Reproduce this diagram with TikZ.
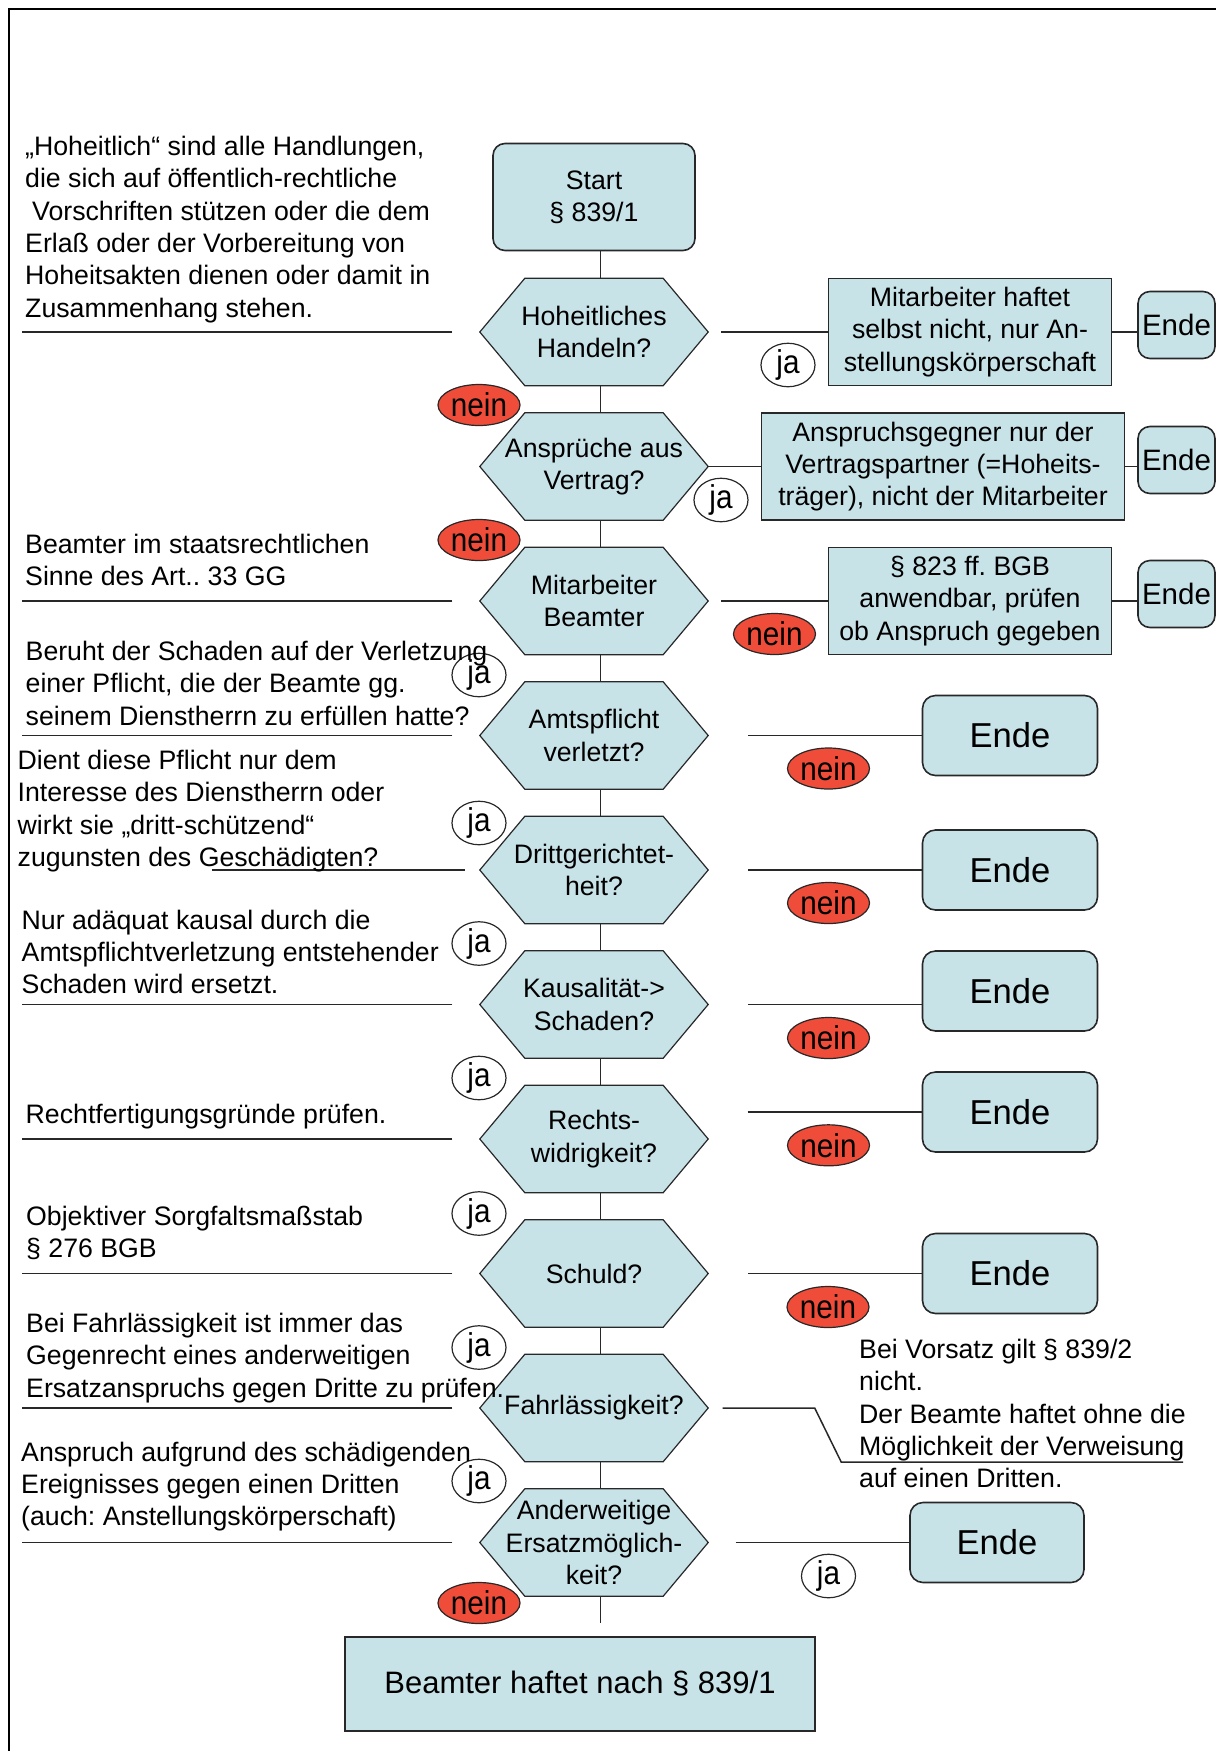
\documentclass[tikz,border=0pt]{standalone}
\usepackage{fontspec}
\setmainfont{Liberation Sans}
\newfontfamily\narrowf[FakeStretch=0.9]{Liberation Sans}
\usetikzlibrary{calc,shapes.geometric}
\pgfdeclarelayer{bg}
\pgfsetlayers{bg,main}
\definecolor{boxblue}{RGB}{200,227,232}
\definecolor{neinred}{RGB}{239,77,58}
\definecolor{lineg}{RGB}{40,40,40}
\frenchspacing
\begin{document}
\frenchspacing
\begin{tikzpicture}[x=1pt,y=-1pt,
  txt/.style={font=\fontsize{26.7}{32.3}\selectfont, inner sep=0pt},
  note/.style={txt, align=left, anchor=north west},
  hexn/.style={txt, align=center, minimum width=228pt, minimum height=107pt},
  hexshape/.style={draw=lineg, line width=1.2pt, fill=boxblue},
  bluebox/.style={txt, align=center, draw=lineg, line width=1.6pt, fill=boxblue},
  endS/.style={bluebox, rounded corners=12pt, minimum width=77pt, minimum height=67pt, font=\fontsize{29.5}{32}\selectfont},
  endL/.style={bluebox, rounded corners=13pt, minimum width=175pt, minimum height=80pt, font=\fontsize{34.6}{36}\selectfont},
  conn/.style={draw=lineg, line width=1.5pt},
  jalabel/.style={draw=lineg, line width=1.2pt, ellipse, minimum width=54pt, minimum height=39pt, inner sep=0pt, font=\narrowf\fontsize{33}{33}\selectfont},
  neinlabel/.style={jalabel, fill=neinred, minimum width=82pt, minimum height=41pt},
]
\useasboundingbox (0,0) rectangle (1216,1751);
\draw[line width=2pt, black] (9,1751) -- (9,9) -- (1216,9);

% start
\node[bluebox, rounded corners=12pt, minimum width=202pt, minimum height=107pt] (s) at (594,197) {\rule{0pt}{0pt}\raisebox{0pt}{}Start\\§ 839/1};

% hexagons (text nodes)
\node[hexn] (h1) at (594,332) {Hoheitliches\\Handeln?};
\node[hexn] (h2) at (594,466.5) {Ansprüche aus\\Vertrag?};
\node[hexn] (h3) at (594,601) {Mitarbeiter\\Beamter};
\node[hexn] (h4) at (594,735.5) {Amtspflicht\\verletzt?};
\node[hexn] (h5) at (594,870) {Drittgerichtet-\\heit?};
\node[hexn] (h6) at (594,1004.5) {Kausalität->\\Schaden?};
\node[hexn] (h7) at (594,1139) {Rechts-\\widrigkeit?};
\node[hexn] (h8) at (594,1273.5) {Schuld?};
\node[hexn] (h9) at (594,1408) {Fahrlässigkeit?};
\node[hexn] (h10) at (594,1542.5) {Anderweitige\\Ersatzmöglich-\\keit?};

\begin{pgfonlayer}{bg}
\foreach \i in {1,...,10}{
  \draw[hexshape] (h\i.west) -- ([xshift=45pt]h\i.north west) -- ([xshift=-45pt]h\i.north east)
    -- (h\i.east) -- ([xshift=-45pt]h\i.south east) -- ([xshift=45pt]h\i.south west) -- cycle;
}
\end{pgfonlayer}

% right boxes
\node[bluebox, minimum width=283pt, minimum height=107pt] (b1) at (970,332) {Mitarbeiter haftet\\selbst nicht, nur An-\\stellungskörperschaft};
\node[bluebox, minimum width=363pt, minimum height=107pt] (b2) at (943,466.5) {Anspruchsgegner nur der\\Vertragspartner (=Hoheits-\\träger), nicht der Mitarbeiter};
\node[bluebox, minimum width=283pt, minimum height=107pt] (b3) at (970,601) {§ 823 ff. BGB\\anwendbar, prüfen\\ob Anspruch gegeben};

\node[endS] (e1) at (1176.5,325) {Ende};
\node[endS] (e2) at (1176.5,460) {Ende};
\node[endS] (e3) at (1176.5,594) {Ende};

\node[endL] (e4) at (1010,735.5) {Ende};
\node[endL] (e5) at (1010,870) {Ende};
\node[endL] (e6) at (1010,991) {Ende};
\node[endL] (e7) at (1010,1112) {Ende};
\node[endL] (e8) at (1010,1273.5) {Ende};
\node[endL, minimum width=174pt] (e10) at (997,1542.5) {Ende};

\node[bluebox, minimum width=470pt, minimum height=94pt, font=\fontsize{31}{34}\selectfont] (z) at (580,1684) {Beamter haftet nach § 839/1};

% connectors
\draw[conn] ([xshift=6.5pt]s.south) -- ([xshift=6.5pt]h1.north);
\foreach \a/\b in {1/2,2/3,3/4,4/5,5/6,6/7,7/8,8/9,9/10}
  \draw[conn] ([xshift=6.5pt]h\a.south) -- ([xshift=6.5pt]h\b.north);
\coordinate (vend) at (600.5,1623);
\draw[conn] ([xshift=6.5pt]h10.south) -- (vend);

\draw[conn] ([xshift=13pt]h1.east) -- (b1.west);
\draw[conn] (h2.east) -- (b2.west);
\draw[conn] ([xshift=13pt]h3.east) -- (b3.west);
\draw[conn] (b1.east) -- (b1.east -| e1.west);
\draw[conn] (b2.east) -- (b2.east -| e2.west);
\draw[conn] (b3.east) -- (b3.east -| e3.west);

\draw[conn] ([xshift=40pt]h4.east) -- (e4.west);
\draw[conn] ([xshift=40pt]h5.east) -- (e5.west);
\draw[conn] ([xshift=40pt]h6.east) -- (h6.east -| e6.west);
\draw[conn] ([xshift=-174pt]e7.west) -- (e7.west);
\draw[conn] ([xshift=40pt]h8.east) -- (e8.west);
\coordinate (r9a) at (814.7,1408);
\coordinate (r9b) at (841.2,1462);
\coordinate (r9c) at (1183,1462);
\draw[conn] ([xshift=14.5pt]h9.east) -- (r9a) -- (r9b) -- (r9c);
\draw[conn] ([xshift=27.5pt]h10.east) -- (e10.west);

\foreach \i in {1,3,4,6,7,8,9,10}
  \draw[conn] ([xshift=-27.5pt]h\i.west) -- ++(-430,0);
\draw[conn] ([xshift=-15pt]h5.west) -- ++(-253,0);

% labels
\node[neinlabel] (n1) at (479,405) {nein};
\node[neinlabel] (n2) at (479,540) {nein};
\node[neinlabel] (n3) at (774.5,634) {nein};
\node[neinlabel] (n4) at (828.5,768.5) {nein};
\node[neinlabel] (n5) at (828.5,903) {nein};
\node[neinlabel] (n6) at (828.5,1038) {nein};
\node[neinlabel] (n7) at (828.5,1145.3) {nein};
\node[neinlabel] (n8) at (828,1307) {nein};
\node[neinlabel] (n10) at (479,1603) {nein};

\node[jalabel] (j1) at (788,365) {ja};
\node[jalabel] (j2) at (721,500) {ja};
\node[jalabel] (j3) at (479,675) {ja};
\node[jalabel] (j4) at (479,823) {ja};
\node[jalabel] (j5) at (479,943.5) {ja};
\node[jalabel] (j6) at (479,1078) {ja};
\node[jalabel] (j7) at (479,1213.5) {ja};
\node[jalabel] (j8) at (479,1347.5) {ja};
\node[jalabel] (j9) at (479,1481) {ja};
\node[jalabel] (j10) at (828.5,1576) {ja};

% notes
\node[note] (t1) at (25,136) {„Hoheitlich“ sind alle Handlungen,\\die sich auf öffentlich-rechtliche\\\hspace*{7pt}Vorschriften stützen oder die dem\\Erlaß oder der Vorbereitung von\\Hoheitsakten dienen oder damit in\\Zusammenhang stehen.};
\node[note] (t3) at (25,534) {Beamter im staatsrechtlichen\\Sinne des Art.. 33 GG};
\node[note] (t4) at (25.5,641) {Beruht der Schaden auf der Verletzung\\einer Pflicht, die der Beamte gg.\\seinem Dienstherrn zu erfüllen hatte?};
\node[note] (t5) at (17.5,750) {Dient diese Pflicht nur dem\\Interesse des Dienstherrn oder\\wirkt sie „dritt-schützend“\\zugunsten des Geschädigten?};
\node[note] (t6) at (21.5,909.5) {Nur adäquat kausal durch die\\Amtspflichtverletzung entstehender\\Schaden wird ersetzt.};
\node[note] (t7) at (25.5,1103.5) {Rechtfertigungsgründe prüfen.};
\node[note] (t8) at (26,1206) {Objektiver Sorgfaltsmaßstab\\§ 276 BGB};
\node[note] (t9) at (26,1313) {Bei Fahrlässigkeit ist immer das\\Gegenrecht eines anderweitigen\\Ersatzanspruchs gegen Dritte zu prüfen.};
\node[note] (t10) at (21,1441.5) {Anspruch aufgrund des schädigenden\\Ereignisses gegen einen Dritten\\(auch: Anstellungskörperschaft)};
\node[note] (t11) at (859,1339) {Bei Vorsatz gilt § 839/2\\nicht.\\Der Beamte haftet ohne die\\Möglichkeit der Verweisung\\auf einen Dritten.};
\end{tikzpicture}
\end{document}
